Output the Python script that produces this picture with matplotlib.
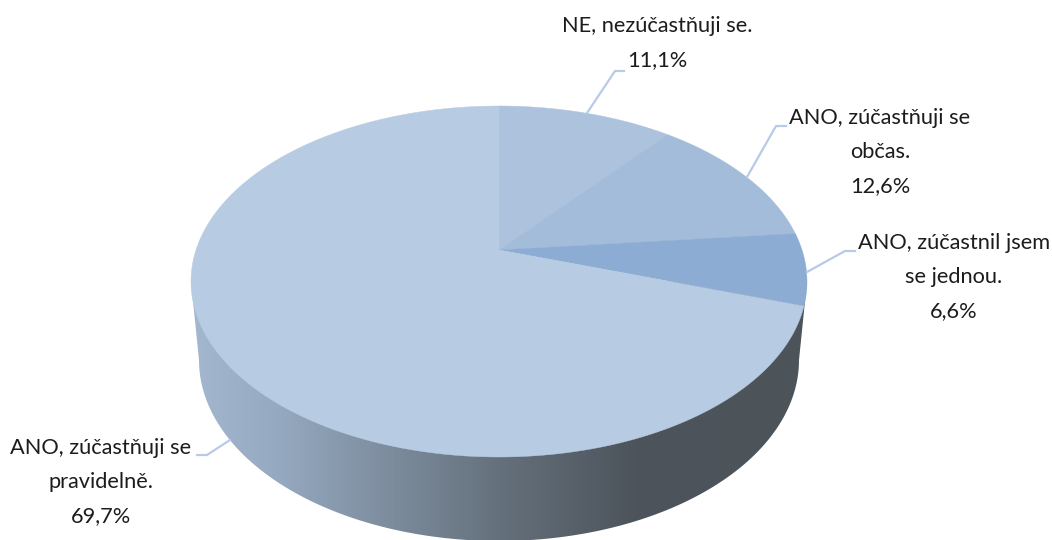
import numpy as np
from matplotlib import pyplot as plt
from matplotlib.colors import LinearSegmentedColormap
from matplotlib.path import Path
from matplotlib.patches import PathPatch

labels = ["NE, nezúčastňuji se.", "ANO, zúčastňuji se\nobčas.",
          "ANO, zúčastnil jsem\nse jednou.", "ANO, zúčastňuji se\npravidelně."]
shares = [11.1, 12.6, 6.6, 69.7]
colors = ["#adc3dd", "#a3bcd9", "#8cacd3", "#b7cce2"]

# label centres and leader lines, in pixels of the picture
label_pos = [(657, 43), (880, 152), (954, 277), (101, 482)]
leaders = [[(587, 113), (615, 71), (624, 71)],
           [(747, 177), (776, 126), (786, 126)],
           [(807, 272), (845, 251), (855, 251)],
           [(230, 440), (207, 455), (197, 455)]]

# top face and bottom edge of the disc
cx, cy, rx, ry = 499, 281.5, 308, 175.5
apex_y = 250
bot_cy, bot_rx, bot_ry = 360, 300, 181
persp = 0.82  # how much the perspective squeezes the far side

plt.rcParams['font.family'] = ['Lato', 'DejaVu Sans']

fig = plt.figure(figsize=(10.52, 5.4), dpi=100)
ax = fig.add_axes([0, 0, 1, 1])
ax.set_xlim(0, 1052)
ax.set_ylim(540, 0)
ax.axis('off')


def rim(angle):
    # pie angle (clockwise from top, radians) to a point on the top ellipse
    t = 2 * np.arctan2(persp * np.sin(angle / 2), np.cos(angle / 2))
    return cx + rx * np.sin(t), cy - ry * np.cos(t)


# side wall with the horizontal gradient
t = np.linspace(0, np.pi, 200)
wall = list(zip(cx + bot_rx * np.cos(t), bot_cy + bot_ry * np.sin(t)))
wall = [(cx + rx, cy)] + wall + [(cx - rx, cy)]
wall_path = Path(wall + [wall[0]], closed=True)
wall_patch = PathPatch(wall_path, fc='none', ec='none')
ax.add_patch(wall_patch)

grad = LinearSegmentedColormap.from_list('wall', [
    (0.0, "#a3b7ce"), (0.14, "#95a9c0"), (0.49, "#66727e"),
    (0.72, "#4d545b"), (1.0, "#4c5359")])
im = ax.imshow(np.linspace(0, 1, 612).reshape(1, -1), cmap=grad, aspect='auto',
               extent=(191, 807, 545, 270), zorder=1)
im.set_clip_path(wall_patch)
ax.set_xlim(0, 1052)
ax.set_ylim(540, 0)

# top face slices
start = 0.0
for share, color in zip(shares, colors):
    end = start + share / sum(shares) * 2 * np.pi
    a = np.linspace(start, end, 200)
    x, y = rim(a)
    ax.fill(np.r_[cx, x], np.r_[apex_y, y], color=color, lw=0.3, zorder=2)
    start = end

for (px, py), label, share, line in zip(label_pos, labels, shares, leaders):
    text = label + "\n" + f"{share:.1f}%".replace(".", ",")
    ax.text(px, py, text, ha='center', va='center', fontsize=15.7,
            color="#1c1c1c", linespacing=1.89, zorder=4)
    ax.plot(*zip(*line), color="#b7cbe8", lw=1.6, zorder=3)

fig.savefig("out.png", dpi=100)
